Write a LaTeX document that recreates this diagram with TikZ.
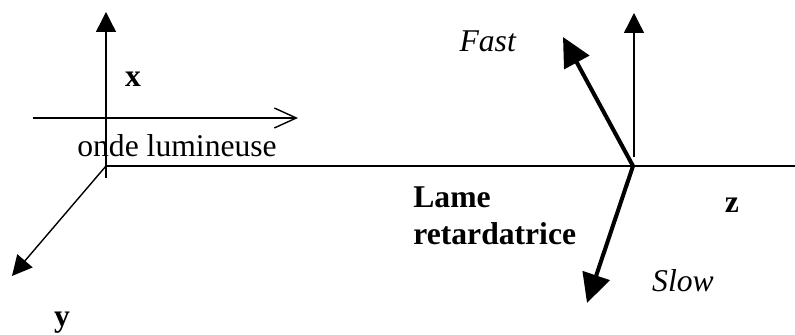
\documentclass[tikz,border=0pt]{standalone}
\usepackage{fontspec}
\setmainfont{Liberation Serif}
\usetikzlibrary{arrows.meta}

\tikzset{
	axis/.style = {line width = 0.8pt, -{Triangle[length=0.4cm, width=0.4cm]}},
	neutral/.style = {line width = 2.3pt, -{Triangle[length=0.58cm, width=0.56cm]}},
	wave/.style = {line width = 0.8pt, -{Straight Barb[length=0.44cm, width=0.4cm, line width=0.8pt]}},
	lbl/.style = {inner sep = 0pt, font = \fontsize{18pt}{21pt}\selectfont}
}

\begin{document}
\begin{tikzpicture}

	\useasboundingbox (-2.12,-3.38) rectangle (13.78,3.32);

	\coordinate (O) at (0,0);
	\coordinate (P) at (10.54,0);

	\coordinate (Xtip) at (0,3.08);
	\coordinate (Xend) at (0,-0.24);
	\coordinate (Ytip) at (-1.88,-2.2);
	\coordinate (Zend) at (13.78,0);
	\coordinate (Wstart) at (-1.46,0.96);
	\coordinate (Wtip) at (3.84,0.96);
	\coordinate (Vstart) at (10.56,0.18);
	\coordinate (Vtip) at (10.56,3.06);
	\coordinate (Ftip) at (9.14,2.58);
	\coordinate (Stip) at (9.62,-2.74);

	% axes
	\draw [axis] (Xend) -- (Xtip);
	\draw [axis] (O) -- (Ytip);
	\draw [line width = 1.1pt] (O) -- (Zend);

	% onde
	\draw [wave] (Wstart) -- (Wtip);

	% lame
	\draw [axis] (Vstart) -- (Vtip);
	\draw [neutral] (P) -- (Ftip);
	\draw [neutral] (P) -- (Stip);

	\node [lbl, anchor = base] (x) at (0.54,1.58) {\textbf{x}};
	\node [lbl, anchor = base] (y) at (-0.88,-3.22) {\textbf{y}};
	\node [lbl, anchor = base] (z) at (12.52,-0.94) {\textbf{z}};
	\node [lbl, anchor = base west] (onde) at (-0.58,0.18) {onde lumineuse};
	\node [lbl, anchor = base] (fast) at (7.64,2.28) {\textit{Fast}};
	\node [lbl, anchor = base] (slow) at (11.54,-2.52) {\textit{Slow}};
	\node [lbl, anchor = base west] (lame) at (6.14,-0.84) {\textbf{Lame}};
	\node [lbl, anchor = base west] (retard) at (6.14,-1.58) {\textbf{retardatrice}};

\end{tikzpicture}
\end{document}
